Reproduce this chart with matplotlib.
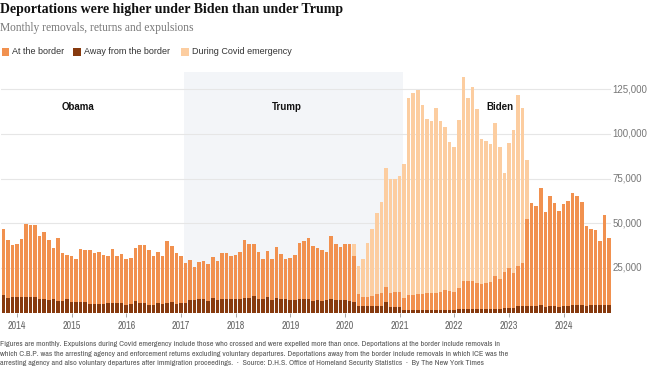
import numpy as np
import pandas as pd
import matplotlib.pyplot as plt
from matplotlib import font_manager
from matplotlib.font_manager import FontProperties
from matplotlib.patches import Rectangle

# months shown: Oct 2013 .. Nov 2024
months = pd.period_range("2013-10", "2024-11", freq="M")

# deportations away from the border (thousands per month)
away = [
    9.9, 8.4, 8.6, 8.6, 8.6, 8.6, 8.6, 8.6, 7.8, 7.6, 6.9, 7.6,   # Oct13-Sep14
    6.7, 6.4, 7.6, 5.8, 5.8, 5.8, 5.8, 5.0, 5.0, 5.0, 5.0, 5.4,   # Oct14-Sep15
    5.4, 5.4, 5.4, 4.5, 5.0, 6.4, 5.4, 5.6, 4.5, 4.5, 5.2, 4.7,   # Oct15-Sep16
    5.6, 6.0, 5.0, 5.4, 5.4, 7.3, 6.9, 7.5, 7.5, 6.7, 8.4, 6.9,   # Oct16-Sep17
    7.8, 7.8, 7.8, 7.5, 7.5, 8.4, 8.4, 9.2, 7.8, 7.5, 8.6, 6.9,   # Oct17-Sep18
    8.0, 7.5, 7.5, 7.1, 6.9, 7.5, 7.5, 7.5, 6.7, 7.0, 6.5, 7.1,   # Oct18-Sep19
    7.6, 7.1, 7.1, 7.1, 6.5, 6.2, 3.9, 3.9, 3.9, 3.9, 3.9, 3.9,   # Oct19-Sep20
    5.8, 3.4, 3.4, 3.0, 1.5, 1.5, 1.5, 1.5, 1.5, 1.5, 1.5, 1.5,   # Oct20-Sep21
    1.5, 1.5, 1.5, 1.5, 1.9, 1.9, 1.9, 1.9, 1.9, 1.9, 1.9, 1.9,   # Oct21-Sep22
    1.9, 1.9, 2.4, 2.4, 2.4, 3.5, 3.5, 3.5, 3.8, 3.6, 4.3, 3.4,   # Oct22-Sep23
    3.8, 3.6, 3.4, 3.6, 3.9, 4.1, 4.3, 4.3, 4.0, 4.3, 4.3, 4.1,   # Oct23-Sep24
    4.5, 4.3,                                                     # Oct24-Nov24
]

# deportations at the border (thousands per month)
border = [
    36.9, 32.2, 29.2, 29.8, 32.8, 41.1, 40.6, 40.2, 34.9, 37.5, 33.9, 28.6,
    34.9, 27.0, 24.8, 26.1, 24.4, 29.6, 29.4, 30.0, 28.4, 28.9, 27.1, 26.1,
    30.0, 26.3, 27.2, 25.3, 25.5, 29.6, 32.2, 32.1, 30.6, 27.2, 28.6, 27.2,
    34.5, 31.4, 28.2, 26.1, 22.6, 22.3, 18.5, 20.6, 21.2, 20.8, 22.8, 22.1,
    25.7, 25.6, 24.0, 24.9, 26.4, 32.2, 30.2, 29.3, 25.9, 22.5, 25.7, 23.3,
    28.5, 25.1, 22.7, 23.4, 25.2, 31.6, 32.5, 34.5, 30.5, 29.0, 28.5, 27.0,
    35.4, 31.3, 29.8, 31.5, 31.7, 25.5, 6.6, 4.7, 5.0, 5.6, 6.4, 6.9,
    8.7, 7.4, 8.0, 8.7, 6.9, 8.2, 8.4, 9.0, 9.0, 9.3, 9.3, 9.3,
    10.2, 11.2, 10.6, 10.2, 11.7, 16.0, 16.0, 16.0, 14.5, 14.0, 14.9, 15.1,
    18.8, 16.9, 20.5, 22.4, 19.6, 22.6, 24.1, 48.9, 57.7, 56.1, 65.3, 53.0,
    61.7, 57.9, 53.3, 57.2, 58.6, 62.6, 60.7, 57.5, 44.5, 42.5, 42.2, 36.0,
    50.0, 37.3,
]

# expulsions during the Covid emergency (thousands per month)
covid = [0.0] * 77 + [
    6.9, 15.6, 21.4, 29.9, 37.3, 45.3, 51.1,                       # Mar20-Sep20
    66.2, 63.9, 63.3, 64.7, 74.6, 110.1, 112.7, 113.8, 105.6, 97.3, 96.5, 103.5,
    95.6, 90.9, 83.2, 80.8, 94.1, 113.7, 101.9, 108.1, 97.3, 81.0, 79.2, 77.3,
    85.5, 73.7, 55.4, 70.2, 80.1, 95.6, 87.0, 33.2,                # Oct22-May23
] + [0.0] * 18

away = np.array(away) * 1000
border = np.array(border) * 1000
covid = np.array(covid) * 1000
x = np.arange(len(months))

sans = "Liberation Sans"
serif = "Liberation Serif"


def condensed_font():
    # look for any narrow/condensed sans face; fall back to plain sans
    prefs = ["narrow", "roboto", "open sans", "noto sans", "dejavu"]
    found = []
    for f in font_manager.fontManager.ttflist:
        n = f.name.lower()
        st = str(f.stretch).lower()
        cond = "narrow" in n or "condensed" in n or "condensed" in st
        if not cond or "mono" in n or "serif" in n or f.style != "normal":
            continue
        if str(f.weight) not in ("400", "normal", "regular", "book"):
            continue
        rank = next((i for i, p in enumerate(prefs) if p in n), len(prefs))
        found.append((rank, f.fname))
    if found:
        return FontProperties(fname=sorted(found)[0][1])
    return FontProperties(family=sans)


narrow = condensed_font()

c_border = "#f1914f"
c_away = "#873a0e"
c_covid = "#fccda0"

W, H = 649, 384
fig = plt.figure(figsize=(W / 100, H / 100), dpi=100)
ax = fig.add_axes([1.0 / W, 71.3 / H, 610.4 / W, 240.7 / H])
ax.set_xlim(-0.5, len(months) - 0.5)
ax.set_ylim(0, 134600)

# Trump term shading
ax.axvspan(39.7, 87.7, color="#f3f5f8", zorder=0, lw=0)
for v in range(25000, 125001, 25000):
    ax.axhline(v, color="#e6e6e6", lw=0.8, zorder=1)
    ax.text(1.002, v, f"{v:,}", transform=ax.get_yaxis_transform(),
            ha="left", va="center", fontsize=7.0, color="#777", family=sans)

bw = 0.78
ax.bar(x, away, width=bw, color=c_away, lw=0, zorder=2)
ax.bar(x, border, width=bw, bottom=away, color=c_border, lw=0, zorder=2)
ax.bar(x, covid, width=bw, bottom=away + border, color=c_covid, lw=0, zorder=2)

for label, pos in [("Obama", 16.3), ("Trump", 62.2), ("Biden", 109.0)]:
    ax.text(pos, 115200, label, ha="center", va="center", fontsize=7,
            fontweight="bold", color="#121212", family=sans, zorder=3)

jan = [i for i, m in enumerate(months) if m.month == 1]
ax.set_xticks(jan)
ax.set_xticklabels([str(months[i].year) for i in jan])
ax.tick_params(axis="x", length=3, width=0.6, color="#999", labelcolor="#666",
               pad=3)
ax.set_yticks([])
for s in ax.spines.values():
    s.set_visible(False)


def fy(y):
    return 1 - y / H


fig.text(0, fy(13.3), "Deportations were higher under Biden than under Trump",
         fontsize=10, fontweight="bold", family=serif, color="#121212", va="baseline")
fig.text(0, fy(30.7), "Monthly removals, returns and expulsions",
         fontsize=8.3, family=serif, color="#777", va="baseline")

legend = [("At the border", c_border, 1.7), ("Away from the border", c_away, 73.3),
          ("During Covid emergency", c_covid, 181.0)]
for text, col, lx in legend:
    fig.add_artist(Rectangle((lx / W, fy(55.7)), 7.6 / W, 8 / H, color=col,
                             transform=fig.transFigure, lw=0))
    fig.text((lx + 10.6) / W, fy(54.3), text, fontsize=6.5, family=sans,
             color="#333", va="baseline")

notes = [
    "Figures are monthly. Expulsions during Covid emergency include those who crossed and were expelled more than once. Deportations at the border include removals in",
    "which C.B.P. was the arresting agency and enforcement returns excluding voluntary departures. Deportations away from the border include removals in which ICE was the",
    "arresting agency and also voluntary departures after immigration proceedings.  \u00b7  Source: D.H.S. Office of Homeland Security Statistics  \u00b7  By The New York Times",
]
note_texts = [fig.text(0, fy(346.3 + 9.5 * i), line, fontproperties=narrow,
                       fontsize=6.5, color="#555", va="baseline")
              for i, line in enumerate(notes)]

# fit the first footnote line to the reference width (about 495 px)
r = fig.canvas.get_renderer()
w0 = note_texts[0].get_window_extent(r).width
size = 6.5 * 495 / w0
for t in note_texts:
    t.set_fontsize(size)

# year labels in the same narrow face, about 18 px wide for "2014"
for lab in ax.get_xticklabels():
    lab.set_fontproperties(narrow)
    lab.set_fontsize(7.5)
r = fig.canvas.get_renderer()
fig.canvas.draw()
lw = ax.get_xticklabels()[0].get_window_extent(r).width
ysize = 7.5 * 18.5 / lw
for lab in ax.get_xticklabels():
    lab.set_fontsize(ysize)

fig.savefig("out.png", dpi=100)
